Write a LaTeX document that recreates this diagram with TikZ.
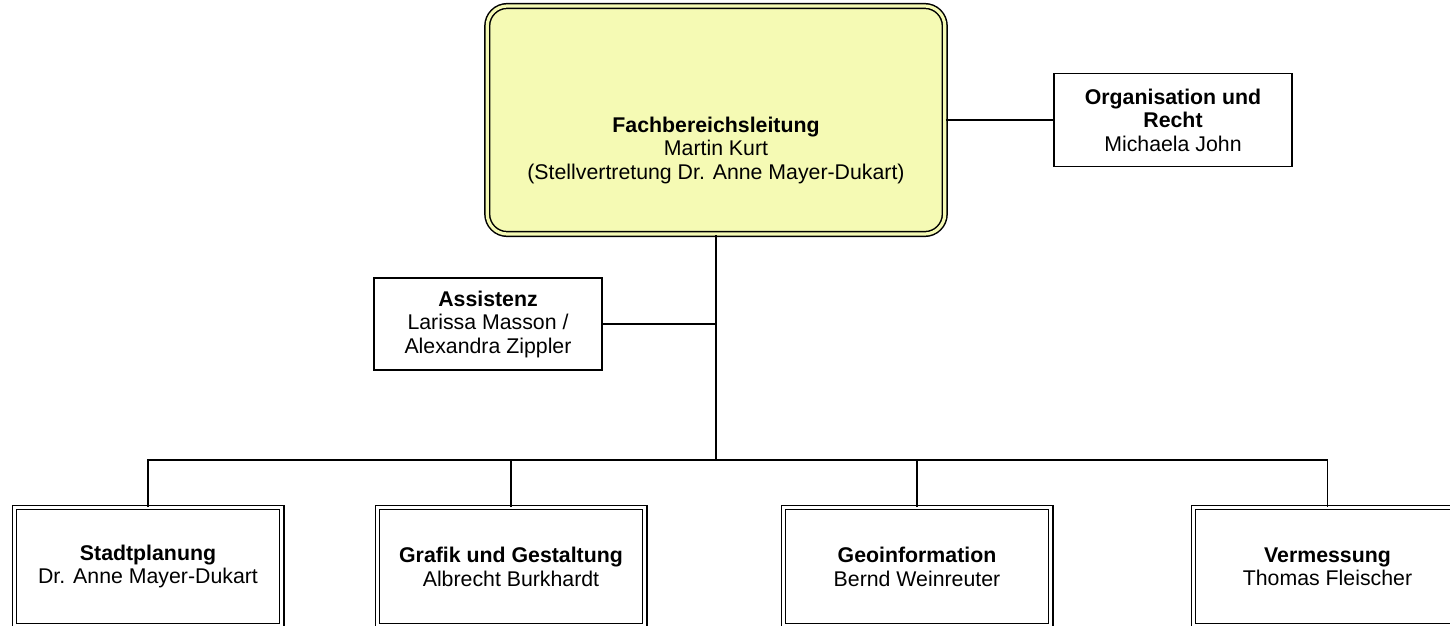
\documentclass[tikz,border=0pt]{standalone}
\usepackage{fontspec}
\setmainfont{Liberation Sans}
\definecolor{headfill}{RGB}{245,250,180}
\begin{document}
\begin{tikzpicture}[x=1pt,y=-1pt,
  every node/.style={font=\fontsize{21.3}{23.5}\selectfont, align=center, inner sep=0pt},
  headbox/.style={draw, rounded corners=20pt, line width=1.5pt, double=headfill, double distance=3.2pt, fill=headfill, minimum width=457.5pt, minimum height=228pt},
  plainbox/.style={draw, line width=1.5pt, fill=white},
  unitbox/.style={draw, line width=1.2pt, double=white, double distance=3pt, fill=white, minimum width=267.6pt, minimum height=118pt},
  conn/.style={line width=1.3pt}]
\useasboundingbox (0,0) rectangle (1450,625);
\clip (0,0) rectangle (1450,625);
\node[headbox] (top) at (716,120) {};
\node (toptext) at (716,150) {\textbf{Fachbereichsleitung}\\Martin Kurt\\(Stellvertretung Dr. Anne Mayer-Dukart)};
\node[plainbox, minimum width=238pt, minimum height=93pt] (org) at (1173,120) {\textbf{Organisation und}\\\textbf{Recht}\\Michaela John};
\node[plainbox, minimum width=228pt, minimum height=92pt] (assist) at (488,324) {\textbf{Assistenz}\\Larissa Masson /\\Alexandra Zippler};
\coordinate (j) at (716,324);
\coordinate (bus) at (716,460);
\node[unitbox] (u1) at (148,566.7) {\textbf{Stadtplanung}\\Dr. Anne Mayer-Dukart};
\node[unitbox] (u2) at (511,566.7) {\textbf{Grafik und Gestaltung}\\Albrecht Burkhardt};
\node[unitbox] (u3) at (917,566.7) {\textbf{Geoinformation}\\Bernd Weinreuter};
\node[unitbox] (u4) at (1327.5,566.7) {\textbf{Vermessung}\\Thomas Fleischer};
\draw[conn] (top.east) -- (org.west);
\draw[conn] (top.south) -- (bus);
\draw[conn] (assist.east) -- (j);
\draw[conn] (u1.north) |- (bus) -| (u4.north);
\draw[conn] (u2.north) -- (u2.north |- bus);
\draw[conn] (u3.north) -- (u3.north |- bus);
\end{tikzpicture}
\end{document}
